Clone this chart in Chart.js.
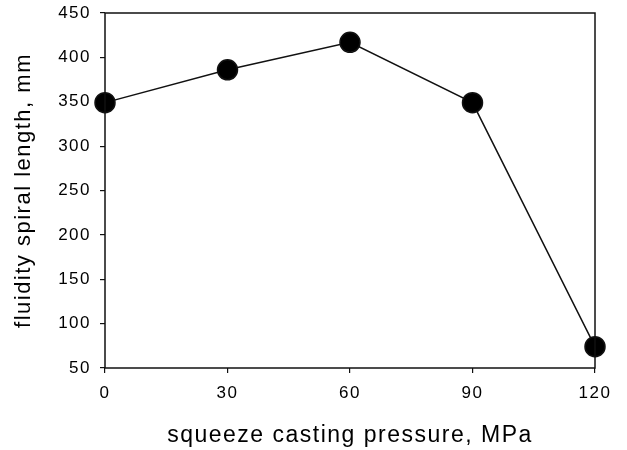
<!DOCTYPE html>
<html>
<head>
<meta charset="utf-8">
<script src="https://cdn.jsdelivr.net/npm/chart.js@4"></script>
<style>
  html, body { margin: 0; padding: 0; background: #fff; }
  #wrap { width: 627px; height: 450px; }
</style>
</head>
<body>
<div id="wrap"><canvas id="myChart" width="627" height="450"></canvas></div>
<script>
// data
const pressures = [0, 30, 60, 90, 120];
const spiralLength = [349, 386, 417, 349, 74];
const xTicks = [0, 30, 60, 90, 120];
const yTicks = [50, 100, 150, 200, 250, 300, 350, 400, 450];

const points = pressures.map((p, i) => ({x: p, y: spiralLength[i]}));

// frame round the plot area + wider letter spacing like the scanned figure
const boxPlugin = {
  id: 'box',
  beforeDraw(chart) {
    chart.ctx.letterSpacing = '1.5px';
  },
  afterDraw(chart) {
    const a = chart.chartArea;
    const c = chart.ctx;
    c.save();
    c.strokeStyle = '#111';
    c.lineWidth = 1.5;
    c.strokeRect(a.left, a.top, a.right - a.left, a.bottom - a.top);
    c.restore();
    c.letterSpacing = '0px';
  }
};

const font = 'Liberation Sans, Arial, sans-serif';
const ctx = document.getElementById('myChart').getContext('2d');
const myChart = new Chart(ctx, {
  type: 'scatter',
  data: {
    datasets: [{
      data: points,
      showLine: true,
      borderColor: '#111',
      backgroundColor: '#000',
      borderWidth: 1.5,
      pointRadius: 10,
      pointHoverRadius: 10,
      clip: false
    }]
  },
  options: {
    responsive: false,
    animation: false,
    layout: { padding: { left: 0, right: 32, top: 13, bottom: 0 } },
    plugins: { legend: { display: false }, tooltip: { enabled: false } },
    scales: {
      x: {
        type: 'linear',
        min: 0, max: 120,
        afterBuildTicks: (axis) => { axis.ticks = xTicks.map(v => ({value: v})); },
        afterFit: (axis) => { axis.height = 82; axis.paddingLeft = 0; axis.paddingRight = 0; },
        grid: { display: true, drawOnChartArea: false, drawTicks: true, tickLength: 5, color: '#111', lineWidth: 1.2 },
        border: { display: false },
        ticks: { color: '#000', font: { family: font, size: 17 }, padding: 10, maxRotation: 0 },
        title: { display: true, text: 'squeeze casting pressure, MPa', color: '#000',
                 font: { family: font, size: 23 }, padding: { top: 4, bottom: 1 } }
      },
      y: {
        min: 50, max: 450,
        afterBuildTicks: (axis) => { axis.ticks = yTicks.map(v => ({value: v})); },
        afterFit: (axis) => { axis.width = 105; axis.paddingTop = 0; axis.paddingBottom = 0; },
        grid: { display: true, drawOnChartArea: false, drawTicks: true, tickLength: 5, color: '#111', lineWidth: 1.2 },
        border: { display: false },
        ticks: { color: '#000', font: { family: font, size: 17 }, padding: 9 },
        title: { display: true, text: 'fluidity spiral length, mm', color: '#000',
                 font: { family: font, size: 22 }, padding: { top: 11, bottom: 4 } }
      }
    }
  },
  plugins: [boxPlugin]
});
</script>
</body>
</html>
